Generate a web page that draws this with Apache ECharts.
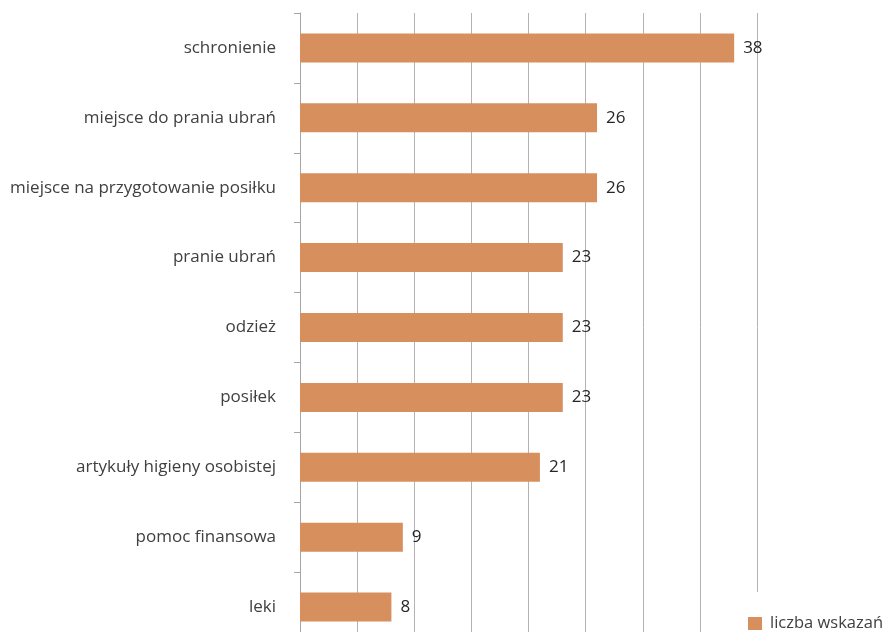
<!DOCTYPE html>
<html>
<head>
<meta charset="utf-8">
<script src="https://cdn.jsdelivr.net/npm/echarts@6/dist/echarts.min.js"></script>
<style>html,body{margin:0;padding:0;background:#fff;overflow:hidden}#c{width:887px;height:645px}</style>
</head>
<body>
<div id="c"></div>
<script>
const categories = ["schronienie","miejsce do prania ubrań","miejsce na przygotowanie posiłku","pranie ubrań","odzież","posiłek","artykuły higieny osobistej","pomoc finansowa","leki"];
const values = [38, 26, 26, 23, 23, 23, 21, 9, 8];
const seriesName = "liczba wskazań";

const chart = echarts.init(document.getElementById('c'));
chart.setOption({
  animation: false,
  textStyle: { fontFamily: "Open Sans" },
  grid: { left: 300, top: 13, width: 457, height: 629, containLabel: false },
  legend: {
    data: [seriesName],
    left: 728, top: 592,
    padding: [23, 5, 20, 20],
    backgroundColor: '#ffffff',
    icon: 'rect', itemWidth: 14, itemHeight: 13, itemGap: 8,
    textStyle: { fontFamily: "Open Sans", fontSize: 16.5, color: '#404040', padding: [0, 0, 0, 3] }
  },
  xAxis: {
    type: 'value', min: 0, max: 40, interval: 5,
    axisLine: { show: false }, axisTick: { show: false }, axisLabel: { show: false },
    splitLine: { show: true, lineStyle: { color: '#b3b3b3', width: 1 } }
  },
  yAxis: {
    type: 'category', data: categories, inverse: true,
    axisLine: { show: true, lineStyle: { color: '#a6a6a6', width: 1 } },
    axisTick: { show: true, length: 6, lineStyle: { color: '#a6a6a6' } },
    axisLabel: { margin: 24, fontFamily: "Open Sans", fontSize: 17, color: '#404040' }
  },
  series: [{
    name: seriesName, type: 'bar', data: values,
    barWidth: 29,
    itemStyle: { color: '#d78f5d' },
    label: { show: true, position: 'right', distance: 9, fontFamily: "Open Sans", fontSize: 17, color: '#262626' }
  }]
});
</script>
</body>
</html>
